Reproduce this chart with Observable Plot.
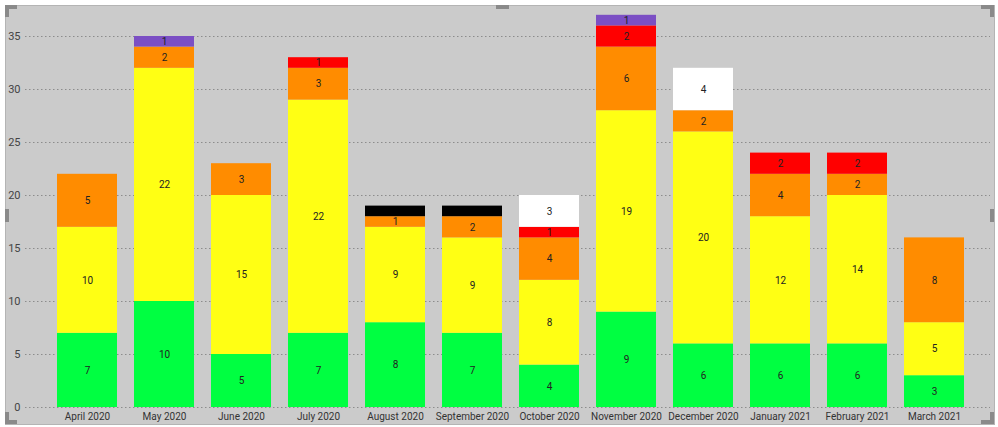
<!DOCTYPE html>
<html>
<head>
<meta charset="utf-8">
<script src="https://cdn.jsdelivr.net/npm/d3@7"></script>
<script src="https://cdn.jsdelivr.net/npm/@observablehq/plot@0.6"></script>
<style>
  html, body { margin: 0; padding: 0; background: #ffffff; }
  #wrap { position: relative; width: 998px; height: 427px; overflow: hidden; }
  #panel { position: absolute; left: 5px; top: 5px; width: 988px; height: 418px; background: #cbcbcb; border: 1px solid #b4b4b4; }
  .h { position: absolute; background: #8a8a8a; }
  #chart { position: absolute; left: 0; top: 0; }
  #chart svg { background: transparent; }
</style>
</head>
<body>
<div id="wrap">
  <div id="panel"></div>
  <div class="h" style="left:5px;top:5px;width:12px;height:4px"></div>
  <div class="h" style="left:5px;top:5px;width:4px;height:12px"></div>
  <div class="h" style="left:981px;top:5px;width:13px;height:4px"></div>
  <div class="h" style="left:990px;top:5px;width:4px;height:12px"></div>
  <div class="h" style="left:5px;top:420px;width:12px;height:4px"></div>
  <div class="h" style="left:5px;top:412px;width:4px;height:12px"></div>
  <div class="h" style="left:981px;top:420px;width:13px;height:4px"></div>
  <div class="h" style="left:990px;top:412px;width:4px;height:12px"></div>
  <div class="h" style="left:496px;top:5px;width:13px;height:4px"></div>
  <div class="h" style="left:5px;top:209px;width:4px;height:13px"></div>
  <div class="h" style="left:990px;top:209px;width:4px;height:13px"></div>
  <div id="chart"></div>
</div>
<script>
const months = ["April 2020","May 2020","June 2020","July 2020","August 2020","September 2020","October 2020","November 2020","December 2020","January 2021","February 2021","March 2021"];
const categories = ["Level 1","Level 2","Level 3","Level 4","Level 5","Level 6","Level 7"];
const colors = ["#00ff41","#ffff14","#ff8c00","#ff0000","#7b4fc4","#000000","#ffffff"];
const level1 = [7,10,5,7,8,7,4,9,6,6,6,3];
const level2 = [10,22,15,22,9,9,8,19,20,12,14,5];
const level3 = [5,2,3,3,1,2,4,6,2,4,2,8];
const level4 = [0,0,0,1,0,0,1,2,0,2,2,0];
const level5 = [0,1,0,0,0,0,0,1,0,0,0,0];
const level6 = [0,0,0,0,1,1,0,0,0,0,0,0];
const level7 = [0,0,0,0,0,0,3,0,4,0,0,0];
const yTicks = [0,5,10,15,20,25,30,35];
// the black segment's label is black on black in the source, so it is not drawn
const hiddenLabelCategories = ["Level 6"];

const series = [level1, level2, level3, level4, level5, level6, level7];
const rows = [];
categories.forEach((c, ci) => {
  months.forEach((m, mi) => {
    const v = series[ci][mi];
    if (v > 0) rows.push({month: m, cat: c, value: v});
  });
});

const font = "Roboto, 'Liberation Sans', sans-serif";

const chart = Plot.plot({
  width: 998,
  height: 427,
  marginLeft: 25,
  marginRight: 8,
  marginTop: 14,
  marginBottom: 20,
  style: {background: "transparent", fontFamily: font, fontSize: "10px", color: "#333"},
  x: {domain: months, range: [40, 981], padding: 0.22, label: null},
  y: {domain: [0, 37], range: [407, 14.8], label: null},
  color: {domain: categories, range: colors},
  marks: [
    Plot.ruleY(yTicks, {stroke: "#8c8c8c", strokeDasharray: "1.5,2.5", strokeWidth: 1}),
    Plot.barY(rows, Plot.stackY({x: "month", y: "value", z: "cat", order: categories, fill: "cat"})),
    Plot.text(rows, Plot.stackY({
      x: "month", y: "value", z: "cat", order: categories,
      text: d => hiddenLabelCategories.includes(d.cat) ? null : d.value,
      fill: "#222", fontSize: 10
    })),
    Plot.axisY(yTicks, {tickSize: 0, tickPadding: 5, fill: "#444", fontSize: 11}),
    Plot.axisX({tickSize: 0, tickPadding: 5, fill: "#333", fontSize: 10})
  ]
});
document.getElementById("chart").appendChild(chart);
</script>
</body>
</html>
